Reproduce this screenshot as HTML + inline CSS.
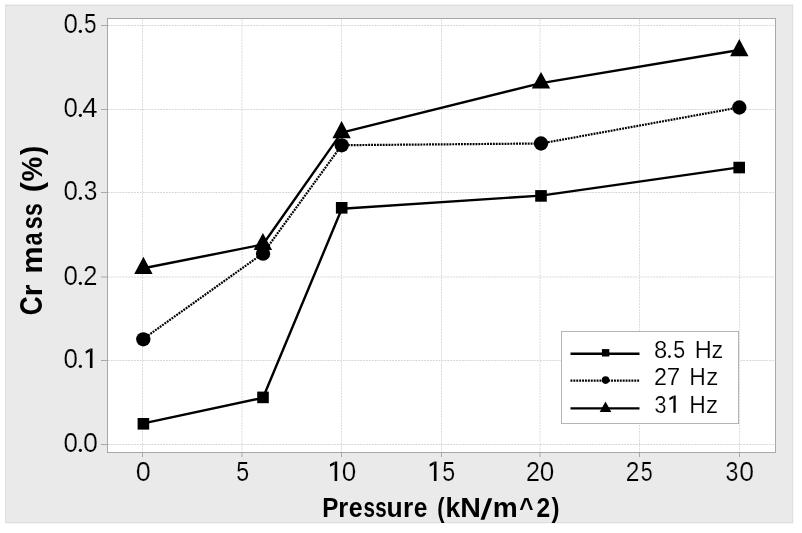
<!DOCTYPE html>
<html><head><meta charset="utf-8"><style>
html,body{margin:0;padding:0;background:#fff;width:802px;height:533px;overflow:hidden;font-family:"Liberation Sans",sans-serif;}
svg{display:block;will-change:transform}
</style></head><body>
<svg width="802" height="533" viewBox="0 0 802 533">
<rect x="0" y="0" width="802" height="533" fill="#ffffff"/>
<rect x="5" y="4" width="788" height="519" fill="#eaeaea"/>
<path d="M5 4.5H793" stroke="#efefef" stroke-width="1"/>
<path d="M5.5 5V523 M792.5 5V523 M5 5.5H793 M5 522.5H793" stroke="#dfdfdf" stroke-width="1" fill="none"/>
<path d="M5 523.5H794 M793.5 4V524" stroke="#f6f6f6" stroke-width="1" fill="none"/>
<rect x="107.5" y="18.5" width="668" height="434" fill="#ffffff"/>
<path d="M142.50 19V452 M242.00 19V452 M341.50 19V452 M441.50 19V452 M540.00 19V452 M639.50 19V452 M739.50 19V452" stroke="#dadada" stroke-width="1" stroke-dasharray="1.9 1.0" fill="none"/>
<path d="M108 444.50H775 M108 360.50H775 M108 277.00H775 M108 192.50H775 M108 109.50H775 M108 25.50H775" stroke="#d6d6d6" stroke-width="1" stroke-dasharray="1.9 1.0" fill="none"/>
<rect x="107.5" y="18.5" width="668" height="434" fill="none" stroke="#a8a8a8" stroke-width="1"/>
<path d="M142.50 453V457 M242.00 453V457 M341.50 453V457 M441.50 453V457 M540.00 453V457 M639.50 453V457 M739.50 453V457 M101 444.50H107 M101 360.50H107 M101 277.00H107 M101 192.50H107 M101 109.50H107 M101 25.50H107" stroke="#a8a8a8" stroke-width="1" fill="none"/>
<path d="M143.40 423.40 L263.00 397.80 L341.80 208.80 L541.00 195.60 L739.20 167.40" stroke="#000" stroke-width="2.4" fill="none" stroke-linejoin="round"/>
<path d="M143.30 338.90 L263.05 253.30 L341.70 145.20 L541.00 143.50 L739.30 107.40" stroke="#000" stroke-width="2.2" stroke-dasharray="1.9 1" fill="none"/>
<path d="M143.40 268.30 L262.90 244.50 L341.60 132.60 L541.00 83.10 L739.30 50.00" stroke="#000" stroke-width="2.4" fill="none" stroke-linejoin="round"/>
<rect x="137.60" y="418.00" width="11.6" height="11.6" fill="#000"/>
<rect x="257.20" y="391.60" width="11.6" height="11.6" fill="#000"/>
<rect x="335.90" y="202.00" width="11.6" height="11.6" fill="#000"/>
<rect x="535.20" y="190.10" width="11.6" height="11.6" fill="#000"/>
<rect x="733.40" y="161.75" width="11.6" height="11.6" fill="#000"/>
<circle cx="143.30" cy="339.30" r="7.15" fill="#000"/>
<circle cx="263.05" cy="253.70" r="7.15" fill="#000"/>
<circle cx="341.70" cy="145.30" r="7.15" fill="#000"/>
<circle cx="541.00" cy="143.50" r="7.15" fill="#000"/>
<circle cx="739.30" cy="107.50" r="7.15" fill="#000"/>
<path d="M143.40 256.75 L152.60 273.90 L134.20 273.90Z" fill="#000"/>
<path d="M262.90 233.00 L272.10 249.90 L253.70 249.90Z" fill="#000"/>
<path d="M341.60 121.10 L350.80 138.20 L332.40 138.20Z" fill="#000"/>
<path d="M541.00 71.90 L550.20 88.60 L531.80 88.60Z" fill="#000"/>
<path d="M739.30 38.90 L748.50 56.30 L730.10 56.30Z" fill="#000"/>
<rect x="561.5" y="331.5" width="177" height="92" fill="#ffffff" stroke="#b4b4b4" stroke-width="1"/>
<path d="M570.5 353.7H639.5" stroke="#000" stroke-width="2.4"/>
<path d="M570.5 380.6H639.5" stroke="#000" stroke-width="2.2" stroke-dasharray="1.9 1"/>
<path d="M570.5 408.4H639.5" stroke="#000" stroke-width="2.4"/>
<rect x="601.90" y="349.10" width="7.4" height="7.4" fill="#000"/>
<circle cx="605.6" cy="380.1" r="3.8" fill="#000"/>
<path d="M605.5 401.4 L611.3 412.1 L599.7 412.1Z" fill="#000"/>
<g transform="translate(0 516.9)"><text transform="translate(330.65 0) scale(0.8708 1)" x="-9.73" y="0" font-family="Liberation Sans, sans-serif" font-size="27.8" font-weight="bold" fill="#000">P</text><text transform="translate(343.95 0) scale(0.9358 1)" x="-6.03" y="0" font-family="Liberation Sans, sans-serif" font-size="27.4" font-weight="bold" fill="#000">r</text><text transform="translate(355.60 0) scale(0.9069 1)" x="-7.69" y="0" font-family="Liberation Sans, sans-serif" font-size="27.4" font-weight="bold" fill="#000">e</text><text transform="translate(369.05 0) scale(0.7528 1)" x="-7.54" y="0" font-family="Liberation Sans, sans-serif" font-size="27.4" font-weight="bold" fill="#000">s</text><text transform="translate(380.93 0) scale(0.7500 1)" x="-7.54" y="0" font-family="Liberation Sans, sans-serif" font-size="27.4" font-weight="bold" fill="#000">s</text><text transform="translate(394.50 0) scale(0.9674 1)" x="-8.31" y="0" font-family="Liberation Sans, sans-serif" font-size="27.4" font-weight="bold" fill="#000">u</text><text transform="translate(408.85 0) scale(0.9595 1)" x="-6.03" y="0" font-family="Liberation Sans, sans-serif" font-size="27.4" font-weight="bold" fill="#000">r</text><text transform="translate(420.60 0) scale(0.8918 1)" x="-7.69" y="0" font-family="Liberation Sans, sans-serif" font-size="27.4" font-weight="bold" fill="#000">e</text><text transform="translate(441.35 0) scale(0.7959 1)" x="-5.27" y="0" font-family="Liberation Sans, sans-serif" font-size="27.6" font-weight="bold" fill="#000">(</text><text transform="translate(453.75 0) scale(0.9591 1)" x="-8.65" y="0" font-family="Liberation Sans, sans-serif" font-size="27.6" font-weight="bold" fill="#000">k</text><text transform="translate(470.60 0) scale(1.0279 1)" x="-10.03" y="0" font-family="Liberation Sans, sans-serif" font-size="27.8" font-weight="bold" fill="#000">N</text><text transform="translate(505.20 0) scale(1.0260 1)" x="-12.24" y="0" font-family="Liberation Sans, sans-serif" font-size="27.4" font-weight="bold" fill="#000">m</text><text transform="translate(526.50 0) scale(0.8792 1)" x="-8.12" y="0" font-family="Liberation Sans, sans-serif" font-size="27.8" font-weight="bold" fill="#000">^</text><text transform="translate(543.28 0) scale(0.8854 1)" x="-7.66" y="0" font-family="Liberation Sans, sans-serif" font-size="27.8" font-weight="bold" fill="#000">2</text><text transform="translate(554.80 0) scale(0.8730 1)" x="-3.92" y="0" font-family="Liberation Sans, sans-serif" font-size="27.6" font-weight="bold" fill="#000">)</text></g>
<g transform="translate(41.8 0) rotate(-90)"><text transform="translate(-305.65 0) scale(0.8437 1)" x="-11.41" y="0" font-family="Liberation Sans, sans-serif" font-size="31" font-weight="bold" fill="#000">C</text><text transform="translate(-289.62 0) scale(1.0143 1)" x="-6.51" y="0" font-family="Liberation Sans, sans-serif" font-size="29.6" font-weight="bold" fill="#000">r</text><text transform="translate(-259.95 0) scale(1.0429 1)" x="-13.22" y="0" font-family="Liberation Sans, sans-serif" font-size="29.6" font-weight="bold" fill="#000">m</text><text transform="translate(-238.55 0) scale(0.7920 1)" x="-8.76" y="0" font-family="Liberation Sans, sans-serif" font-size="29.6" font-weight="bold" fill="#000">a</text><text transform="translate(-222.85 0) scale(0.7813 1)" x="-8.14" y="0" font-family="Liberation Sans, sans-serif" font-size="29.6" font-weight="bold" fill="#000">s</text><text transform="translate(-209.80 0) scale(0.7742 1)" x="-8.14" y="0" font-family="Liberation Sans, sans-serif" font-size="29.6" font-weight="bold" fill="#000">s</text><text transform="translate(-186.20 0) scale(1.0752 1)" x="-5.54" y="0" font-family="Liberation Sans, sans-serif" font-size="29" font-weight="bold" fill="#000">(</text><text transform="translate(-169.15 0) scale(0.9269 1)" x="-13.32" y="0" font-family="Liberation Sans, sans-serif" font-size="30" font-weight="bold" fill="#000">%</text><text transform="translate(-151.10 0) scale(0.9530 1)" x="-4.12" y="0" font-family="Liberation Sans, sans-serif" font-size="29" font-weight="bold" fill="#000">)</text></g>
<g transform="translate(0 357.95)"><text transform="translate(660.67 0) scale(0.9581 1)" x="-6.90" y="0" font-family="Liberation Sans, sans-serif" font-size="24.8" font-weight="normal" fill="#000" stroke="#ffffff" stroke-width="0.2" stroke-linejoin="round">8</text><circle cx="669.45" cy="-1.40" r="1.35" fill="#000"/><text transform="translate(679.17 0) scale(0.8632 1)" x="-6.87" y="0" font-family="Liberation Sans, sans-serif" font-size="24.8" font-weight="normal" fill="#000" stroke="#ffffff" stroke-width="0.2" stroke-linejoin="round">5</text><text transform="translate(703.20 0) scale(0.9529 1)" x="-8.96" y="0" font-family="Liberation Sans, sans-serif" font-size="24.8" font-weight="normal" fill="#000" stroke="#ffffff" stroke-width="0.2" stroke-linejoin="round">H</text><text transform="translate(717.30 0) scale(1.0057 1)" x="-5.72" y="0" font-family="Liberation Sans, sans-serif" font-size="23.3" font-weight="normal" fill="#000" stroke="#ffffff" stroke-width="0.2" stroke-linejoin="round">z</text></g>
<g transform="translate(0 385.3)"><text transform="translate(660.50 0) scale(0.9382 1)" x="-6.90" y="0" font-family="Liberation Sans, sans-serif" font-size="24.8" font-weight="normal" fill="#000" stroke="#ffffff" stroke-width="0.2" stroke-linejoin="round">2</text><text transform="translate(673.50 0) scale(0.9757 1)" x="-6.91" y="0" font-family="Liberation Sans, sans-serif" font-size="24.8" font-weight="normal" fill="#000" stroke="#ffffff" stroke-width="0.2" stroke-linejoin="round">7</text><text transform="translate(697.50 0) scale(0.9240 1)" x="-8.96" y="0" font-family="Liberation Sans, sans-serif" font-size="24.8" font-weight="normal" fill="#000" stroke="#ffffff" stroke-width="0.2" stroke-linejoin="round">H</text><text transform="translate(712.05 0) scale(1.0372 1)" x="-5.72" y="0" font-family="Liberation Sans, sans-serif" font-size="23.3" font-weight="normal" fill="#000" stroke="#ffffff" stroke-width="0.2" stroke-linejoin="round">z</text></g>
<g transform="translate(0 412.8)"><text transform="translate(660.30 0) scale(0.8675 1)" x="-6.82" y="0" font-family="Liberation Sans, sans-serif" font-size="24.8" font-weight="normal" fill="#000" stroke="#ffffff" stroke-width="0.2" stroke-linejoin="round">3</text><path d="M673.40 -17.18H675.70V0H673.40Z M673.70 -17.18L669.30 -14.79L669.55 -12.67L673.70 -14.88Z" fill="#000"/><text transform="translate(697.50 0) scale(0.9240 1)" x="-8.96" y="0" font-family="Liberation Sans, sans-serif" font-size="24.8" font-weight="normal" fill="#000" stroke="#ffffff" stroke-width="0.2" stroke-linejoin="round">H</text><text transform="translate(712.02 0) scale(1.0424 1)" x="-5.72" y="0" font-family="Liberation Sans, sans-serif" font-size="23.3" font-weight="normal" fill="#000" stroke="#ffffff" stroke-width="0.2" stroke-linejoin="round">z</text></g>
<g transform="translate(0 33)"><text transform="translate(70.80 0) scale(0.9264 1)" x="-7.79" y="0" font-family="Liberation Sans, sans-serif" font-size="28" font-weight="normal" fill="#000" stroke="#eaeaea" stroke-width="0.2" stroke-linejoin="round">0</text><circle cx="80.40" cy="-1.65" r="1.60" fill="#000"/><text transform="translate(90.25 0) scale(0.8060 1)" x="-7.76" y="0" font-family="Liberation Sans, sans-serif" font-size="28" font-weight="normal" fill="#000" stroke="#eaeaea" stroke-width="0.2" stroke-linejoin="round">5</text></g>
<g transform="translate(0 117)"><text transform="translate(70.80 0) scale(0.9264 1)" x="-7.79" y="0" font-family="Liberation Sans, sans-serif" font-size="28" font-weight="normal" fill="#000" stroke="#eaeaea" stroke-width="0.2" stroke-linejoin="round">0</text><circle cx="80.40" cy="-1.65" r="1.60" fill="#000"/><text transform="translate(89.95 0) scale(0.9852 1)" x="-7.70" y="0" font-family="Liberation Sans, sans-serif" font-size="28" font-weight="normal" fill="#000" stroke="#eaeaea" stroke-width="0.2" stroke-linejoin="round">4</text></g>
<g transform="translate(0 200)"><text transform="translate(70.80 0) scale(0.9264 1)" x="-7.79" y="0" font-family="Liberation Sans, sans-serif" font-size="28" font-weight="normal" fill="#000" stroke="#eaeaea" stroke-width="0.2" stroke-linejoin="round">0</text><circle cx="80.40" cy="-1.65" r="1.60" fill="#000"/><text transform="translate(90.40 0) scale(0.8738 1)" x="-7.70" y="0" font-family="Liberation Sans, sans-serif" font-size="28" font-weight="normal" fill="#000" stroke="#eaeaea" stroke-width="0.2" stroke-linejoin="round">3</text></g>
<g transform="translate(0 285)"><text transform="translate(70.80 0) scale(0.9264 1)" x="-7.79" y="0" font-family="Liberation Sans, sans-serif" font-size="28" font-weight="normal" fill="#000" stroke="#eaeaea" stroke-width="0.2" stroke-linejoin="round">0</text><circle cx="80.40" cy="-1.65" r="1.60" fill="#000"/><text transform="translate(90.40 0) scale(0.9094 1)" x="-7.79" y="0" font-family="Liberation Sans, sans-serif" font-size="28" font-weight="normal" fill="#000" stroke="#eaeaea" stroke-width="0.2" stroke-linejoin="round">2</text></g>
<g transform="translate(0 368)"><text transform="translate(70.80 0) scale(0.9264 1)" x="-7.79" y="0" font-family="Liberation Sans, sans-serif" font-size="28" font-weight="normal" fill="#000" stroke="#eaeaea" stroke-width="0.2" stroke-linejoin="round">0</text><circle cx="80.40" cy="-1.65" r="1.60" fill="#000"/><path d="M89.90 -19.40H92.50V0H89.90Z M90.20 -19.40L85.60 -16.70L85.85 -14.30L90.20 -16.80Z" fill="#000"/></g>
<g transform="translate(0 452)"><text transform="translate(70.80 0) scale(0.9264 1)" x="-7.79" y="0" font-family="Liberation Sans, sans-serif" font-size="28" font-weight="normal" fill="#000" stroke="#eaeaea" stroke-width="0.2" stroke-linejoin="round">0</text><circle cx="80.40" cy="-1.65" r="1.60" fill="#000"/><text transform="translate(90.50 0) scale(0.9563 1)" x="-7.79" y="0" font-family="Liberation Sans, sans-serif" font-size="28" font-weight="normal" fill="#000" stroke="#eaeaea" stroke-width="0.2" stroke-linejoin="round">0</text></g>
<g transform="translate(0 481)"><text transform="translate(143.20 0) scale(0.9638 1)" x="-7.79" y="0" font-family="Liberation Sans, sans-serif" font-size="28" font-weight="normal" fill="#000" stroke="#eaeaea" stroke-width="0.2" stroke-linejoin="round">0</text></g>
<g transform="translate(0 481)"><text transform="translate(242.60 0) scale(0.8286 1)" x="-7.76" y="0" font-family="Liberation Sans, sans-serif" font-size="28" font-weight="normal" fill="#000" stroke="#eaeaea" stroke-width="0.2" stroke-linejoin="round">5</text></g>
<g transform="translate(0 481)"><path d="M334.60 -19.40H337.20V0H334.60Z M334.90 -19.40L329.90 -16.70L330.15 -14.30L334.90 -16.80Z" fill="#000"/><text transform="translate(349.08 0) scale(0.9302 1)" x="-7.79" y="0" font-family="Liberation Sans, sans-serif" font-size="28" font-weight="normal" fill="#000" stroke="#eaeaea" stroke-width="0.2" stroke-linejoin="round">0</text></g>
<g transform="translate(0 481)"><path d="M433.90 -19.40H436.50V0H433.90Z M434.20 -19.40L429.60 -16.70L429.85 -14.30L434.20 -16.80Z" fill="#000"/><text transform="translate(448.60 0) scale(0.8286 1)" x="-7.76" y="0" font-family="Liberation Sans, sans-serif" font-size="28" font-weight="normal" fill="#000" stroke="#eaeaea" stroke-width="0.2" stroke-linejoin="round">5</text></g>
<g transform="translate(0 481)"><text transform="translate(532.90 0) scale(0.8937 1)" x="-7.79" y="0" font-family="Liberation Sans, sans-serif" font-size="28" font-weight="normal" fill="#000" stroke="#eaeaea" stroke-width="0.2" stroke-linejoin="round">2</text><text transform="translate(547.05 0) scale(0.9339 1)" x="-7.79" y="0" font-family="Liberation Sans, sans-serif" font-size="28" font-weight="normal" fill="#000" stroke="#eaeaea" stroke-width="0.2" stroke-linejoin="round">0</text></g>
<g transform="translate(0 481)"><text transform="translate(632.50 0) scale(0.8780 1)" x="-7.79" y="0" font-family="Liberation Sans, sans-serif" font-size="28" font-weight="normal" fill="#000" stroke="#eaeaea" stroke-width="0.2" stroke-linejoin="round">2</text><text transform="translate(646.70 0) scale(0.7683 1)" x="-7.76" y="0" font-family="Liberation Sans, sans-serif" font-size="28" font-weight="normal" fill="#000" stroke="#eaeaea" stroke-width="0.2" stroke-linejoin="round">5</text></g>
<g transform="translate(0 481)"><text transform="translate(731.90 0) scale(0.8286 1)" x="-7.70" y="0" font-family="Liberation Sans, sans-serif" font-size="28" font-weight="normal" fill="#000" stroke="#eaeaea" stroke-width="0.2" stroke-linejoin="round">3</text><text transform="translate(746.65 0) scale(0.9488 1)" x="-7.79" y="0" font-family="Liberation Sans, sans-serif" font-size="28" font-weight="normal" fill="#000" stroke="#eaeaea" stroke-width="0.2" stroke-linejoin="round">0</text></g>
<path d="M488.3 498.2 L492.3 498.2 L484.4 519.7 L480.5 519.7Z" fill="#000"/>
</svg>
</body></html>
